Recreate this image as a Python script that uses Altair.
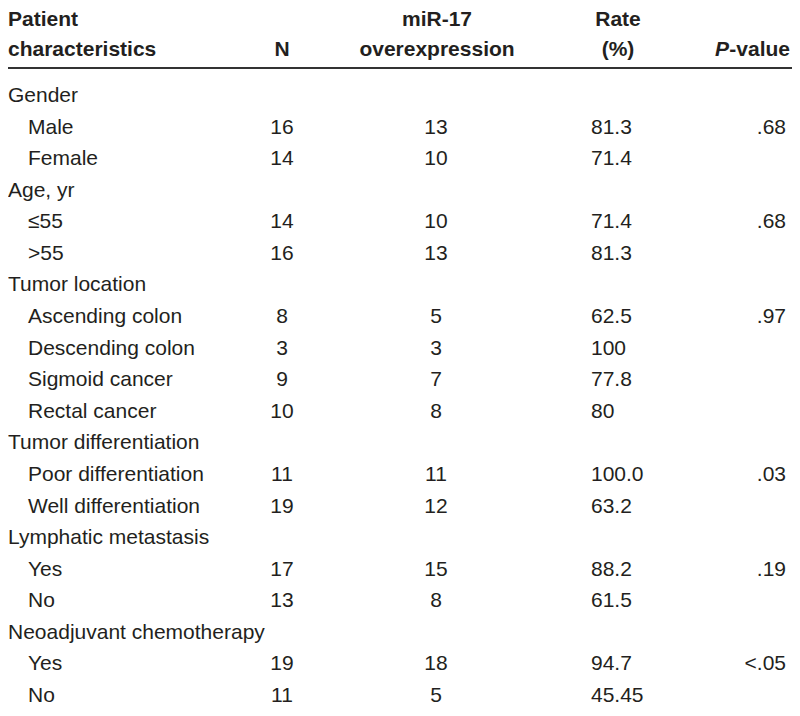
import altair as alt
import pandas as pd

labels = ["Gender", "Male", "Female", "Age, yr", "≤55", ">55", "Tumor location",
          "Ascending colon", "Descending colon", "Sigmoid cancer", "Rectal cancer",
          "Tumor differentiation", "Poor differentiation", "Well differentiation",
          "Lymphatic metastasis", "Yes", "No", "Neoadjuvant chemotherapy", "Yes", "No"]
indent = [0, 1, 1, 0, 1, 1, 0, 1, 1, 1, 1, 0, 1, 1, 0, 1, 1, 0, 1, 1]
n_vals = ["", "16", "14", "", "14", "16", "", "8", "3", "9", "10", "", "11", "19", "", "17", "13", "", "19", "11"]
mir_vals = ["", "13", "10", "", "10", "13", "", "5", "3", "7", "8", "", "11", "12", "", "15", "8", "", "18", "5"]
rate_vals = ["", "81.3", "71.4", "", "71.4", "81.3", "", "62.5", "100", "77.8", "80", "",
             "100.0", "63.2", "", "88.2", "61.5", "", "94.7", "45.45"]
p_vals = ["", ".68", "", "", ".68", "", "", ".97", "", "", "", "", ".03", "", "", ".19", "", "", "<.05", ""]

df = pd.DataFrame({
    "row": list(range(len(labels))),
    "label": labels,
    "indent": indent,
    "n": n_vals,
    "mir": mir_vals,
    "rate": rate_vals,
    "p": p_vals,
})

FONT = "Liberation Sans, Arial, sans-serif"
FS = 21
COL = "#231f20"
W, H = 784, 700

yscale = alt.Scale(domain=[0, 19], range=[88, 688])
Y = alt.Y("row:Q", scale=yscale, axis=None)

base = alt.Chart(df)

def txt(**kw):
    return dict(font=FONT, fontSize=FS, color=COL, baseline="middle", **kw)

label_layer = base.mark_text(**txt(align="left")).encode(
    x=alt.X("indent:Q", scale=alt.Scale(domain=[0, 1], range=[0, 20]), axis=None),
    y=Y, text="label:N")
n_layer = base.mark_text(**txt(align="center")).encode(x=alt.value(274), y=Y, text="n:N")
mir_layer = base.mark_text(**txt(align="center")).encode(x=alt.value(428), y=Y, text="mir:N")
rate_layer = base.mark_text(**txt(align="left")).encode(x=alt.value(583), y=Y, text="rate:N")
p_layer = base.mark_text(**txt(align="right")).encode(x=alt.value(778), y=Y, text="p:N")

hdr_text = ["Patient", "characteristics", "N", "miR-17", "overexpression", "Rate", "(%)", "-value", "P"]
hdr_x = [0, 0, 274, 429, 429, 610, 610, 782, 721]
hdr_y = [12, 42, 42, 12, 42, 12, 42, 42, 42]
hdr_align = ["left", "left", "center", "center", "center", "center", "center", "right", "right"]
hdr_style = ["normal"] * 8 + ["italic"]
hdr = pd.DataFrame({"t": hdr_text, "x": hdr_x, "y": hdr_y, "a": hdr_align, "s": hdr_style})

hdr_layers = []
for align in ["left", "center", "right"]:
    for style in ["normal", "italic"]:
        sub = hdr[(hdr.a == align) & (hdr.s == style)]
        if len(sub) == 0:
            continue
        hdr_layers.append(
            alt.Chart(sub).mark_text(font=FONT, fontSize=FS, color=COL, baseline="middle",
                                     fontWeight="bold", align=align, fontStyle=style).encode(
                x=alt.X("x:Q", scale=alt.Scale(domain=[0, W], range=[0, W]), axis=None),
                y=alt.Y("y:Q", scale=alt.Scale(domain=[0, H], range=[0, H]), axis=None),
                text="t:N")
        )

rule = alt.Chart(pd.DataFrame({"a": [0]})).mark_rule(color="#333333", strokeWidth=2).encode(
    x=alt.value(0), x2=alt.value(W), y=alt.value(60))

chart = alt.layer(label_layer, n_layer, mir_layer, rate_layer, p_layer, rule, *hdr_layers).resolve_scale(
    x="independent", y="independent"
).properties(
    width=W, height=H, padding=0, autosize=alt.AutoSizeParams(type="none"), background="white"
).configure_view(stroke=None)

chart.save("out.html", embed_options={"renderer": "svg", "actions": False})
